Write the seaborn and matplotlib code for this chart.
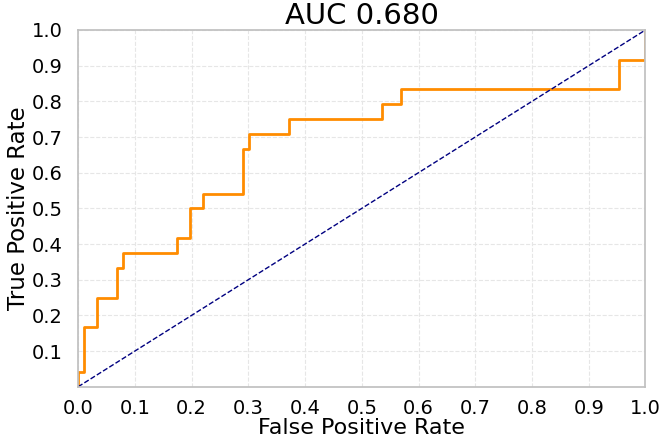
import numpy as np
import pandas as pd
import matplotlib
matplotlib.use("Agg")
import matplotlib.pyplot as plt
import seaborn as sns

# ROC curve corner points, 24 positives
fpr = [0.0, 0.0, 0.0106, 0.0106, 0.034, 0.034, 0.069, 0.069, 0.079, 0.079,
       0.1735, 0.1735, 0.197, 0.197, 0.2206, 0.2206, 0.29, 0.29, 0.302, 0.302,
       0.372, 0.372, 0.535, 0.535, 0.569, 0.569, 0.954, 0.954, 1.0, 1.0]
tpr_counts = [0, 1, 1, 4, 4, 6, 6, 8, 8, 9,
              9, 10, 10, 12, 12, 13, 13, 16, 16, 17,
              17, 18, 18, 19, 19, 20, 20, 22, 22, 24]
n_pos = 24
tpr = [c / n_pos for c in tpr_counts]

chance = [0.0, 1.0]
auc_label = "AUC 0.680"
x_ticks = [0.0, 0.1, 0.2, 0.3, 0.4, 0.5, 0.6, 0.7, 0.8, 0.9, 1.0]
y_ticks = [0.1, 0.2, 0.3, 0.4, 0.5, 0.6, 0.7, 0.8, 0.9, 1.0]

roc = pd.DataFrame({"fpr": fpr, "tpr": tpr})
diag = pd.DataFrame({"x": chance, "y": chance})

sns.set_theme(style="whitegrid")
plt.rcParams["font.family"] = ["DejaVu Sans"]

fig = plt.figure(figsize=(6.62, 4.41), dpi=100)
ax = fig.add_axes([0.118, 0.123, 0.857, 0.809])

sns.lineplot(data=roc, x="fpr", y="tpr", sort=False, estimator=None,
             color="darkorange", linewidth=2, ax=ax)
sns.lineplot(data=diag, x="x", y="y", sort=False, estimator=None,
             color="navy", linewidth=1, linestyle="--", ax=ax)

ax.set_xlim(0, 1)
ax.set_ylim(0, 1)
ax.set_xticks(x_ticks)
ax.set_yticks(y_ticks)
ax.tick_params(axis="x", labelsize=14, pad=3, labelcolor="black")
ax.tick_params(axis="y", labelsize=14, pad=5, labelcolor="black")
ax.grid(True, linestyle="--", color="#e6e6e6", linewidth=0.8)
for s in ax.spines.values():
    s.set_color("#c0c0c0")

ax.set_title(auc_label, fontsize=21, pad=4, color="black")
ax.set_xlabel("False Positive Rate", fontsize=16, labelpad=0, color="black")
ax.set_ylabel("True Positive Rate", fontsize=16.5, labelpad=1.5, color="black")

fig.savefig("out.png", dpi=100)
